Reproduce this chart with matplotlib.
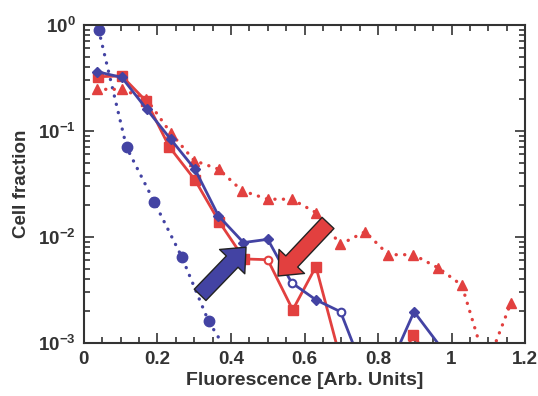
import numpy as np
import matplotlib
matplotlib.use("Agg")
import matplotlib.pyplot as plt
from matplotlib.ticker import MultipleLocator, LogLocator, FixedLocator, FixedFormatter, NullFormatter

plt.rcParams['font.family'] = ['Liberation Sans', 'DejaVu Sans']
plt.rcParams['font.weight'] = 'bold'
plt.rcParams['mathtext.fontset'] = 'custom'
plt.rcParams['mathtext.rm'] = 'Liberation Sans:bold'
plt.rcParams['mathtext.bf'] = 'Liberation Sans:bold'

BLUE = '#4343a3'
RED = '#e2403f'

# blue dotted, large circles
blue_dot_x = [0.040, 0.116, 0.191, 0.266, 0.339, 0.415]
blue_dot_y = [0.90, 0.070, 0.0215, 0.0065, 0.0016, 0.0006]

# blue solid, diamonds
blue_x = [0.035, 0.103, 0.171, 0.236, 0.302, 0.366, 0.434, 0.500, 0.565, 0.631,
          0.698, 0.765, 0.832, 0.898, 0.972]
blue_y = [0.363, 0.32, 0.16, 0.0835, 0.0435, 0.0158, 0.00885, 0.0095, 0.0037, 0.00255,
          0.00197, 0.0005, 0.0006, 0.00197, 0.0009]
blue_open = [8, 10]  # points drawn as open circles

# red solid, squares
red_x = [0.039, 0.103, 0.170, 0.232, 0.302, 0.368, 0.436, 0.500, 0.568, 0.631,
         0.698, 0.765, 0.832, 0.896, 0.965]
red_y = [0.325, 0.33, 0.19, 0.071, 0.0345, 0.0139, 0.0062, 0.0061, 0.00205, 0.00525,
         0.0007, 0.0003, 0.0004, 0.0012, 0.0005]
red_open = [7]

# red dotted, triangles
red_dot_x = [0.036, 0.103, 0.170, 0.236, 0.300, 0.367, 0.430, 0.500, 0.565, 0.631,
             0.697, 0.765, 0.828, 0.896, 0.964, 1.028, 1.095, 1.161]
red_dot_y = [0.247, 0.247, 0.20, 0.096, 0.0525, 0.0435, 0.0273, 0.0227, 0.0227, 0.017,
             0.0085, 0.0112, 0.0068, 0.0068, 0.0051, 0.0035, 0.0006, 0.00237]

xticks = [0, 0.2, 0.4, 0.6, 0.8, 1.0, 1.2]
xtick_labels = ['0', '0.2', '0.4', '0.6', '0.8', '1', '1.2']
yticks = [1e-3, 1e-2, 1e-1, 1]
ytick_labels = [r'$10^{-3}$', r'$10^{-2}$', r'$10^{-1}$', r'$10^{0}$']

fig = plt.figure(figsize=(5.38, 3.96), dpi=100)
ax = fig.add_axes([0.156, 0.134, 0.820, 0.803])

dots = (0, (0.05, 2.5))
ax.plot(blue_dot_x, blue_dot_y, ls=dots, lw=2.4, color=BLUE,
        marker='o', ms=7.5, dash_capstyle='round')
ax.plot(red_dot_x, red_dot_y, ls=dots, lw=2.4, color=RED,
        marker='^', ms=7, dash_capstyle='round')

red_marks = [i for i in range(len(red_x)) if i not in red_open]
blue_marks = [i for i in range(len(blue_x)) if i not in blue_open]
ax.plot(red_x, red_y, ls='-', lw=2, color=RED, marker='s', ms=6.5, markevery=red_marks)
ax.plot(blue_x, blue_y, ls='-', lw=2, color=BLUE, marker='D', ms=5, markevery=blue_marks)

for i in blue_open:
    ax.plot(blue_x[i], blue_y[i], 'o', ms=5.5, mfc='white', mec=BLUE, mew=1.5)
for i in red_open:
    ax.plot(red_x[i], red_y[i], 'o', ms=5.5, mfc='white', mec=RED, mew=1.5)

# arrows
ax.annotate('', xy=(0.441, 0.0080), xytext=(0.316, 0.00284),
            arrowprops=dict(arrowstyle='simple,head_length=0.8,head_width=1.4,tail_width=0.65',
                            fc=BLUE, ec='#222222', lw=1, mutation_scale=18, shrinkA=0, shrinkB=0))
ax.annotate('', xy=(0.528, 0.00428), xytext=(0.664, 0.01355),
            arrowprops=dict(arrowstyle='simple,head_length=0.8,head_width=1.4,tail_width=0.65',
                            fc=RED, ec='#222222', lw=1, mutation_scale=18, shrinkA=0, shrinkB=0))

ax.set_yscale('log')
ax.set_xlim(0, 1.2)
ax.set_ylim(1e-3, 1)
ax.xaxis.set_major_locator(FixedLocator(xticks))
ax.xaxis.set_major_formatter(FixedFormatter(xtick_labels))
ax.xaxis.set_minor_locator(MultipleLocator(0.05))
ax.yaxis.set_major_locator(FixedLocator(yticks))
ax.yaxis.set_major_formatter(FixedFormatter(ytick_labels))
ax.yaxis.set_minor_locator(LogLocator(base=10, subs=np.arange(2, 10)))
ax.yaxis.set_minor_formatter(NullFormatter())

ax.tick_params(which='both', direction='in', top=True, right=True,
               color='#333333', width=1.2, labelsize=13.5, pad=6)
ax.tick_params(which='major', length=7)
ax.tick_params(which='minor', length=4)
for s in ax.spines.values():
    s.set_color('#333333')
    s.set_linewidth(1.5)

ax.set_xlabel('Fluorescence [Arb. Units]', fontsize=14, fontweight='bold', color='#333333', labelpad=3)
ax.set_ylabel('Cell fraction', fontsize=13.5, fontweight='bold', color='#333333', labelpad=6)
for lab in ax.get_xticklabels() + ax.get_yticklabels():
    lab.set_color('#333333')

fig.savefig('out.png', dpi=100)
